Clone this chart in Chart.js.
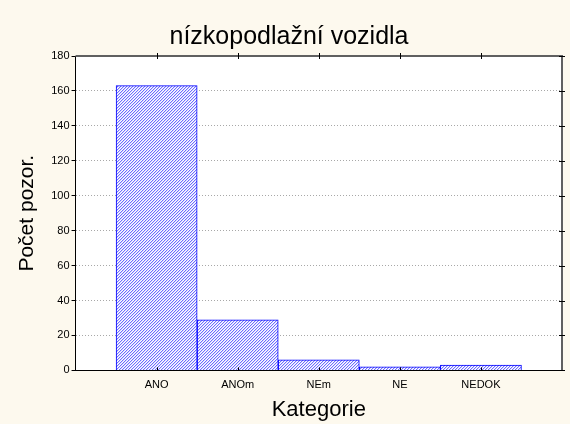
<!DOCTYPE html>
<html lang="cs">
<head>
    <meta charset="UTF-8">
    <title>nízkopodlažní vozidla</title>
    <style>
        html, body {
            margin: 0;
            padding: 0;
            background: #fdf9ee;
        }
        .chart-box {
            width: 570px;
            height: 424px;
        }
    </style>
</head>
<body>
    <div class="chart-box">
        <canvas id="chart" width="570" height="424"></canvas>
    </div>

    <script src="https://cdn.jsdelivr.net/npm/chart.js"></script>
    <script>
        // data
        const categories = ['ANO', 'ANOm', 'NEm', 'NE', 'NEDOK'];
        const counts = [163, 29, 6, 2, 3];
        const yTicks = [0, 20, 40, 60, 80, 100, 120, 140, 160, 180];

        const ctx = document.getElementById('chart').getContext('2d');

        // hatched fill  (////)
        function makeHatch() {
            const tile = document.createElement('canvas');
            tile.width = 3;
            tile.height = 3;
            const g = tile.getContext('2d');
            g.fillStyle = '#ffffff';
            g.fillRect(0, 0, 3, 3);
            g.fillStyle = '#6e6eff';
            for (let i = 0; i < 3; i++) {
                g.fillRect(i, 2 - i, 1, 1);
            }
            g.fillStyle = '#d6d6ff';
            for (let i = 0; i < 3; i++) {
                g.fillRect((i + 1) % 3, 2 - i, 1, 1);
            }
            return ctx.createPattern(tile, 'repeat');
        }

        // cream background, white plot area, frame and small ticks
        const framePlugin = {
            id: 'frame',
            beforeDraw(chart) {
                const c = chart.ctx;
                const a = chart.chartArea;
                c.save();
                c.fillStyle = '#fdf9ee';
                c.fillRect(0, 0, chart.width, chart.height);
                c.fillStyle = '#ffffff';
                c.fillRect(a.left, a.top, a.right - a.left, a.bottom - a.top);
                c.restore();
            },
            afterDraw(chart) {
                const c = chart.ctx;
                const a = chart.chartArea;
                const xs = chart.scales.x;
                const ys = chart.scales.y;
                c.save();
                c.strokeStyle = '#606060';
                c.lineWidth = 2;
                c.beginPath();
                c.moveTo(a.left, a.top);
                c.lineTo(a.right, a.top);
                c.lineTo(a.right, a.bottom);
                c.stroke();

                c.strokeStyle = '#000000';
                c.lineWidth = 1;
                c.beginPath();
                categories.forEach((cat, i) => {
                    const px = Math.round(xs.getPixelForValue(i + 1)) + 0.5;
                    c.moveTo(px, a.top - 3);
                    c.lineTo(px, a.top + 3);
                    c.moveTo(px, a.bottom);
                    c.lineTo(px, a.bottom - 3);
                });
                yTicks.forEach(v => {
                    const py = Math.round(ys.getPixelForValue(v)) + 0.5;
                    c.moveTo(a.right - 3, py);
                    c.lineTo(a.right + 3, py);
                });
                c.stroke();
                c.restore();
            }
        };

        const chart = new Chart(ctx, {
            type: 'bar',
            data: {
                datasets: [{
                    data: counts.map((v, i) => ({ x: i + 1, y: v })),
                    backgroundColor: makeHatch(),
                    borderColor: '#0000ff',
                    borderWidth: 1,
                    borderSkipped: 'bottom',
                    barPercentage: 1,
                    categoryPercentage: 1
                }]
            },
            options: {
                responsive: false,
                animation: false,
                layout: {
                    padding: { left: 15, right: 7, top: 0, bottom: 0 }
                },
                plugins: {
                    legend: { display: false },
                    tooltip: { enabled: false },
                    title: {
                        display: true,
                        text: 'nízkopodlažní vozidla',
                        color: '#000000',
                        font: { family: 'Arial', size: 25, weight: 'normal' },
                        padding: { top: 22, bottom: 4 }
                    }
                },
                scales: {
                    x: {
                        type: 'linear',
                        min: 0,
                        max: 6,
                        offset: false,
                        ticks: {
                            stepSize: 1,
                            color: '#000000',
                            font: { family: 'Arial', size: 11 },
                            padding: 8,
                            maxRotation: 0,
                            callback: v => categories[v - 1] || ''
                        },
                        grid: { display: true, drawOnChartArea: false, drawTicks: false },
                        border: { color: '#000000', width: 1 },
                        title: {
                            display: true,
                            text: 'Kategorie',
                            color: '#000000',
                            font: { family: 'Arial', size: 22 },
                            padding: { top: -3, bottom: 1 }
                        }
                    },
                    y: {
                        min: 0,
                        max: 180,
                        afterBuildTicks: scale => {
                            scale.ticks = yTicks.map(v => ({ value: v }));
                        },
                        ticks: {
                            color: '#000000',
                            font: { family: 'Arial', size: 11 },
                            padding: 2
                        },
                        grid: {
                            color: '#a8a8a8',
                            tickColor: '#000000',
                            tickLength: 4
                        },
                        border: { color: '#000000', width: 1, dash: [1, 2] },
                        title: {
                            display: true,
                            text: 'Počet pozor.',
                            color: '#000000',
                            font: { family: 'Arial', size: 21 },
                            padding: { top: 0, bottom: 9 }
                        }
                    }
                }
            },
            plugins: [framePlugin]
        });
    </script>
</body>
</html>
